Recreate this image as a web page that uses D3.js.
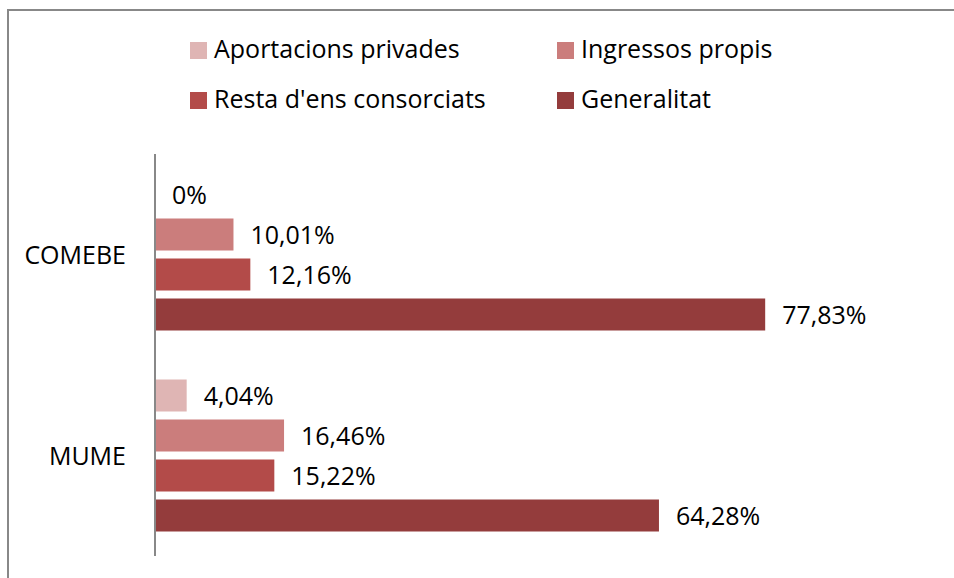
<html>
  <head>
    <meta charset="utf-8">
    <title>Aportacions</title>
  </head>
  <style>
    body { margin: 0; background: #fff; }
    text { font-family: "Open Sans", sans-serif; fill: #000; }
    .frame { fill: none; stroke: #888; stroke-width: 2px; }
    .axisLine { stroke: #888; stroke-width: 2px; shape-rendering: crispEdges; }
  </style>
  <body>
    <div id="chart"></div>
    <script src="https://cdn.jsdelivr.net/npm/d3@7/dist/d3.min.js"></script>
    <script>

      // data
      var categories = ["COMEBE", "MUME"];
      var series     = ["Aportacions privades", "Ingressos propis", "Resta d'ens consorciats", "Generalitat"];
      var colors     = ["#DFB5B4", "#CB7D7C", "#B34B49", "#943C3C"];
      var comebe     = [0, 10.01, 12.16, 77.83];
      var mume       = [4.04, 16.46, 15.22, 64.28];
      var labels     = [["0%", "10,01%", "12,16%", "77,83%"],
                        ["4,04%", "16,46%", "15,22%", "64,28%"]];

      var values = [comebe, mume];

      var width  = 954,
          height = 578;

      var svg = d3.select("#chart")
                  .append("svg")
                  .attr("width", width)
                  .attr("height", height);

      // outer frame (runs off the right/bottom of the picture)
      svg.append("rect")
         .classed("frame", true)
         .attr("x", 8)
         .attr("y", 10)
         .attr("width", 1000)
         .attr("height", 620);

      var x = d3.scaleLinear()
                .domain([0, 100])
                .range([155, 939]);

      var y = d3.scaleBand()
                .domain(categories)
                .range([154, 556]);

      var ySub = d3.scaleBand()
                   .domain(series)
                   .range([-80, 80])
                   .paddingInner(0.2)
                   .paddingOuter(0.1);

      var groups = svg.selectAll("g.cat")
                      .data(categories)
                      .enter()
                      .append("g")
                      .attr("class", "cat")
                      .attr("transform", function(d) {
                        return "translate(0," + (y(d) + y.bandwidth() / 2) + ")";
                      });

      groups.selectAll("rect")
            .data(function(d, i) {
              return series.map(function(s, j) {
                return { s: s, v: values[i][j], c: colors[j], lbl: labels[i][j] };
              });
            })
            .enter()
            .append("rect")
            .attr("x", x(0))
            .attr("y", function(d) { return ySub(d.s); })
            .attr("width", function(d) { return x(d.v) - x(0); })
            .attr("height", ySub.bandwidth())
            .attr("fill", function(d) { return d.c; });

      groups.selectAll("text.lbl")
            .data(function(d, i) {
              return series.map(function(s, j) {
                return { s: s, v: values[i][j], lbl: labels[i][j] };
              });
            })
            .enter()
            .append("text")
            .attr("class", "lbl")
            .attr("x", function(d) { return x(d.v) + 17; })
            .attr("y", function(d) { return ySub(d.s) + ySub.bandwidth() / 2 + 9; })
            .style("font-size", "25px")
            .text(function(d) { return d.lbl; });

      // category labels
      groups.append("text")
            .attr("x", 126)
            .attr("y", 9)
            .style("font-size", "25px")
            .style("text-anchor", "end")
            .text(function(d) { return d; });

      // vertical axis line
      svg.append("line")
         .classed("axisLine", true)
         .attr("x1", x(0))
         .attr("x2", x(0))
         .attr("y1", 154)
         .attr("y2", 556);

      // legend, two rows of two
      var legendX = [190, 557],
          legendY = [58, 108];

      var legend = svg.selectAll("g.legend")
                      .data(series)
                      .enter()
                      .append("g")
                      .attr("class", "legend")
                      .attr("transform", function(d, i) {
                        return "translate(" + legendX[i % 2] + "," + legendY[Math.floor(i / 2)] + ")";
                      });

      legend.append("rect")
            .attr("x", 0)
            .attr("y", -16)
            .attr("width", 17)
            .attr("height", 17)
            .attr("fill", function(d, i) { return colors[i]; });

      legend.append("text")
            .attr("x", 24)
            .attr("y", 0)
            .style("font-size", "25px")
            .text(function(d) { return d; });

    </script>
  </body>
</html>
